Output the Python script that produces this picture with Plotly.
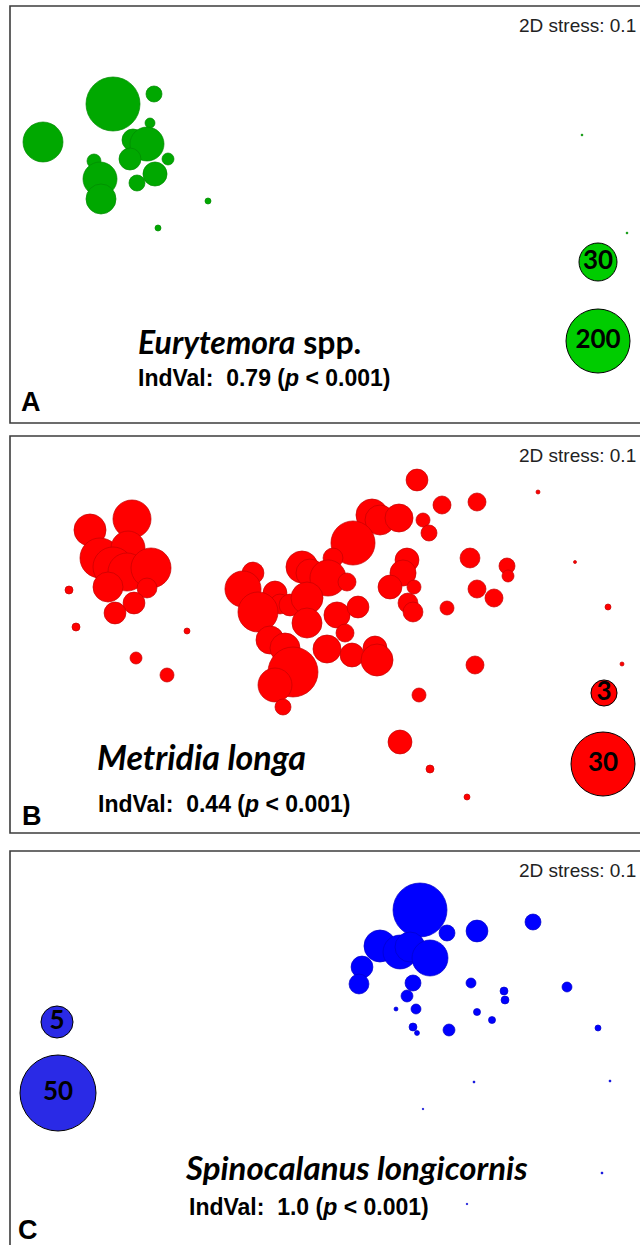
import plotly.graph_objects as go

# ---------------------------------------------------------------
# nMDS ordination bubble plots: abundance of three indicator taxa
# (x, y = MDS coordinates; abund = individuals per m^3)
# ---------------------------------------------------------------

# Panel A - Eurytemora spp.
eur_x = [-2.12, -2.82, -1.71, -1.75, -1.92, -1.78, -1.95, -1.57, -1.70,
         -1.88, -2.31, -2.25, -2.24, -1.17, -1.67, 2.57, 3.02]
eur_y = [1.105, 0.725, 1.205, 0.915, 0.745, 0.705, 0.555, 0.555, 0.405,
         0.315, 0.535, 0.355, 0.155, 0.135, -0.135, 0.795, -0.185]
eur_abund = [108, 36, 1.3, 0.23, 4.1, 20, 4.1, 0.45, 5.7,
             1.3, 0.79, 20, 12.7, 0.037, 0.037, 0.0005, 0.0005]
eur_key = [30, 200]

# Panel B - Metridia longa
met_x = [-2.35, -1.93, -2.25, -1.97, -2.12, -1.98, -1.74, -2.17, -1.78, -1.91,
         -2.10, -2.56, -2.49, -1.38, -1.89, -1.58,
         0.92, 1.17, 1.52, 0.47, 0.55, 0.74, 0.98, 1.04, 0.28, 0.08,
         -0.23, -0.15, 0.03, 0.22, -0.72, -0.82, -0.50, -0.45, -0.35, -0.67,
         -0.18, -0.18, 0.12, 0.33, 0.20, -0.55, -0.40, 0.02, 0.27, 0.50,
         0.52, -0.32, -0.50, -0.42,
         0.82, 0.78, 0.65, 0.89, 0.83, 0.88,
         1.45, 1.82, 1.83, 1.52, 1.69, 1.22, 1.50, 0.94, 0.75, 1.05,
         1.42, 2.13, 2.50, 2.83, 2.97]
met_y = [1.045, 1.155, 0.765, 0.865, 0.675, 0.625, 0.665, 0.475, 0.465, 0.315,
         0.215, 0.445, 0.075, 0.035, -0.235, -0.405,
         1.545, 1.295, 1.325, 1.195, 1.145, 1.165, 1.145, 1.015, 0.915, 0.765,
         0.675, 0.615, 0.565, 0.525, 0.615, 0.455, 0.415, 0.305, 0.295, 0.225,
         0.365, 0.115, 0.195, 0.275, 0.015, -0.055, -0.135, -0.145, -0.205, -0.135,
         -0.255, -0.375, -0.505, -0.725,
         0.745, 0.615, 0.475, 0.475, 0.315, 0.225,
         0.765, 0.685, 0.585, 0.455, 0.365, 0.265, -0.305, -0.605, -1.075, -1.345,
         -1.625, 1.425, 0.725, 0.275, -0.295]
met_abund = [5.1, 7.9, 9.0, 5.9, 9.0, 7.9, 9.0, 4.3, 1.5, 1.9,
             1.9, 0.145, 0.145, 0.069, 0.41, 0.61,
             1.9, 1.16, 1.16, 5.1, 4.3, 3.6, 0.61, 0.86, 11.5, 1.5,
             5.1, 3.6, 6.9, 1.16, 1.9, 6.9, 2.4, 1.5, 1.9, 9.0,
             5.1, 4.3, 3.0, 1.9, 1.16, 3.6, 4.3, 3.6, 2.4, 2.4,
             5.1, 15.9, 5.9, 0.86,
             2.4, 3.0, 2.4, 0.61, 1.5, 1.5,
             1.5, 0.86, 0.41, 1.16, 1.16, 0.61, 1.16, 0.61, 2.4, 0.145,
             0.069, 0.025, 0.012, 0.069, 0.025]
met_key = [3, 30]

# Panel C - Spinocalanus longicornis
spi_x = [0.95, 1.22, 1.52, 2.08, 0.55, 0.75, 0.85, 1.05, 0.37, 0.34,
         0.88, 0.82, 1.46, 2.42, 1.79, 1.80, 0.71, 0.91, 1.52, 1.67,
         0.88, 0.92, 1.24, 2.73, 1.49, 2.85, 0.98, 2.77, 1.42]
spi_y = [1.38, 1.15, 1.17, 1.26, 1.02, 0.96, 1.01, 0.90, 0.81, 0.64,
         0.65, 0.52, 0.65, 0.61, 0.57, 0.48, 0.39, 0.39, 0.36, 0.28,
         0.21, 0.15, 0.18, 0.20, -0.34, -0.33, -0.61, -1.25, -1.56]
spi_abund = [20.1, 0.78, 1.8, 0.78, 5.0, 5.8, 4.2, 6.8, 1.8, 1.4,
             0.78, 0.36, 0.22, 0.22, 0.12, 0.12, 0.019, 0.22, 0.087, 0.087,
             0.12, 0.035, 0.36, 0.057, 0.003, 0.003, 0.0016, 0.003, 0.0016]
spi_key = [5, 50]

W, H = 640, 1245
PX = 100.0          # pixels per MDS unit
LEFT = 10           # left frame edge (px)


def bubble_diam(values, vmax, dmax, expo):
    """Bubble diameter (px) grows as a power of abundance."""
    return [dmax * (v / vmax) ** expo for v in values]


panels = [
    dict(tag="A", x=eur_x, y=eur_y, v=eur_abund, keys=eur_key,
         top=6, bottom=423, dmax=64, expo=0.275,
         fill="#00A800", edge="#008A00", key_fill="#00CC00",
         key_xy=[(2.73, -0.475), (2.73, -1.265)],
         species="<b><i>Eurytemora</i> spp.</b>", name_size=32,
         indval="<b>IndVal:  0.79 (<i>p</i> < 0.001)</b>",
         name_px=(136, 341), ind_px=(136, 378), lab_px=(19, 402)),
    dict(tag="B", x=met_x, y=met_y, v=met_abund, keys=met_key,
         top=436, bottom=833, dmax=64, expo=0.39,
         fill="#FF0000", edge="#C40000", key_fill="#FF0000",
         key_xy=[(2.79, -0.585), (2.78, -1.295)],
         species="<b><i>Metridia longa</i></b>", name_size=34,
         indval="<b>IndVal:  0.44 (<i>p</i> < 0.001)</b>",
         name_px=(95, 756), ind_px=(96, 804), lab_px=(20, 816)),
    dict(tag="C", x=spi_x, y=spi_y, v=spi_abund, keys=spi_key,
         top=851, bottom=1245, dmax=76, expo=0.375,
         fill="#0000FF", edge="#0000C8", key_fill="#2A2AE6",
         key_xy=[(-2.68, 0.26), (-2.67, -0.45)],
         species="<b><i>Spinocalanus longicornis</i></b>", name_size=33,
         indval="<b>IndVal:  1.0 (<i>p</i> < 0.001)</b>",
         name_px=(183, 1167), ind_px=(187, 1207), lab_px=(16, 1230)),
]

fig = go.Figure()
annotations = []
shapes = []

for i, p in enumerate(panels, start=1):
    xa = "x" if i == 1 else f"x{i}"
    ya = "y" if i == 1 else f"y{i}"
    half_h = (p["bottom"] - p["top"]) / (2 * PX)
    half_w = (W - LEFT) / (2 * PX)
    mid_y = (p["top"] + p["bottom"]) / 2
    mid_x = (W + LEFT) / 2

    vmax = max(p["keys"])
    sizes = bubble_diam(p["v"], vmax, p["dmax"], p["expo"])
    fig.add_trace(go.Scatter(
        x=p["x"], y=p["y"], mode="markers", xaxis=xa, yaxis=ya,
        marker=dict(size=sizes, sizemode="diameter", color=p["fill"],
                    opacity=1, line=dict(color=p["edge"], width=0.7)),
        showlegend=False, hoverinfo="skip"))

    # key bubbles with their abundance written inside
    key_sizes = bubble_diam(p["keys"], vmax, p["dmax"], p["expo"])
    fig.add_trace(go.Scatter(
        x=[k[0] for k in p["key_xy"]], y=[k[1] for k in p["key_xy"]],
        mode="markers+text", xaxis=xa, yaxis=ya,
        text=[str(k) for k in p["keys"]], textposition="middle center",
        textfont=dict(family="Lato", size=26, color="black", weight="bold"),
        marker=dict(size=key_sizes, sizemode="diameter", color=p["key_fill"],
                    opacity=1, line=dict(color="black", width=1)),
        showlegend=False, hoverinfo="skip"))

    dom_y = [1 - p["bottom"] / H, 1 - p["top"] / H]
    axis_common = dict(showgrid=False, zeroline=False, showticklabels=False,
                       ticks="", showline=False, fixedrange=True)
    fig.layout[f"xaxis{'' if i == 1 else i}"] = dict(
        domain=[LEFT / W, 1], range=[-half_w, half_w], anchor=ya, **axis_common)
    fig.layout[f"yaxis{'' if i == 1 else i}"] = dict(
        domain=dom_y, range=[-half_h, half_h], anchor=xa, **axis_common)

    # frame around the panel (right side / bottom of C run past the page)
    y0 = -0.01 if p["bottom"] >= H else 1 - p["bottom"] / H
    shapes.append(dict(type="rect", xref="paper", yref="paper",
                       x0=LEFT / W, x1=1.02, y0=y0, y1=1 - p["top"] / H,
                       line=dict(color="#3C3C3C", width=1.6)))

    def to_xy(px, py):
        return ((px - mid_x) / PX, (mid_y - py) / PX)

    sx, sy = to_xy(638, p["top"] + 19)
    annotations.append(dict(x=sx, y=sy, xref=xa, yref=ya, text="2D stress: 0.1",
                            showarrow=False, xanchor="right", yanchor="middle",
                            font=dict(family="Liberation Sans", size=19, color="#222")))
    nx, ny = to_xy(*p["name_px"])
    annotations.append(dict(x=nx, y=ny, xref=xa, yref=ya, text=p["species"],
                            showarrow=False, xanchor="left", yanchor="middle",
                            font=dict(family="Lato", size=p["name_size"], color="black",
                                      weight="bold")))
    ix, iy = to_xy(*p["ind_px"])
    annotations.append(dict(x=ix, y=iy, xref=xa, yref=ya, text=p["indval"],
                            showarrow=False, xanchor="left", yanchor="middle",
                            font=dict(family="Liberation Sans", size=23, color="black")))
    lx, ly = to_xy(*p["lab_px"])
    annotations.append(dict(x=lx, y=ly, xref=xa, yref=ya, text=f"<b>{p['tag']}</b>",
                            showarrow=False, xanchor="left", yanchor="middle",
                            font=dict(family="Liberation Sans", size=27, color="black")))

fig.update_layout(width=W, height=H, margin=dict(l=0, r=0, t=0, b=0),
                  paper_bgcolor="white", plot_bgcolor="white",
                  annotations=annotations, shapes=shapes, showlegend=False)

fig.write_html("out.html")
